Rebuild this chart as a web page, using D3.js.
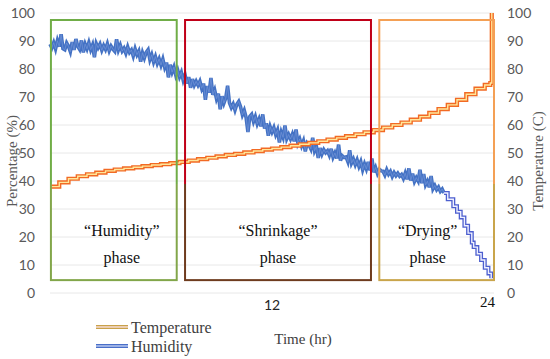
<!DOCTYPE html>
<html>
<head>
<meta charset="utf-8">
<script src="https://cdn.jsdelivr.net/npm/d3@7"></script>
<style>
  body { margin: 0; background: #fff; }
  svg { display: block; }
</style>
</head>
<body>
<svg id="chart"></svg>
<script>
// humidity (%), sampled every 0.1 hr from 0 to 21.3 hr
const humidity = [
  88.9, 87.6, 89.4, 87.2, 90.1, 88.0, 92.4, 87.3, 86.9, 89.3,
  88.1, 86.2, 89.6, 86.8, 90.7, 88.1, 87.0, 90.2, 85.9, 88.9,
  87.2, 89.4, 86.9, 88.6, 84.2, 89.1, 87.6, 88.9, 86.7, 88.4,
  87.0, 89.0, 86.5, 88.2, 87.1, 86.3, 90.6, 86.8, 88.5, 86.4,
  87.4, 85.6, 87.9, 85.9, 86.8, 84.6, 87.2, 85.1, 86.4, 82.6,
  85.8, 83.9, 86.0, 86.9, 83.3, 85.1, 82.5, 84.4, 82.0, 83.6,
  81.4, 83.5, 80.6, 82.3, 77.0, 81.5, 78.9, 80.7, 77.8, 79.6,
  77.2, 78.8, 76.0, 77.9, 74.8, 77.1, 73.3, 76.4, 74.2, 75.6,
  74.2, 75.6, 73.1, 74.8, 69.0, 73.9, 71.6, 76.8, 70.8, 72.5,
  69.4, 71.2, 65.6, 70.3, 67.8, 69.6, 74.0, 67.9, 66.2, 67.5,
  65.3, 67.4, 68.4, 66.5, 63.6, 65.2, 62.7, 57.5, 63.0, 63.8,
  61.2, 63.0, 60.4, 62.1, 59.5, 63.8, 58.7, 60.6, 56.2, 59.4,
  57.5, 59.1, 56.6, 58.2, 53.8, 57.4, 55.6, 59.8, 55.1, 56.6,
  55.0, 56.7, 54.2, 58.4, 53.5, 55.0, 52.6, 54.3, 50.6, 53.6,
  52.9, 51.5, 55.4, 50.8, 52.3, 48.2, 51.8, 49.6, 51.2, 50.1,
  50.8, 49.2, 51.5, 48.5, 50.0, 48.1, 53.0, 47.3, 49.0, 48.4,
  48.6, 46.9, 51.0, 46.4, 47.8, 45.8, 47.5, 45.2, 46.9, 44.0,
  46.1, 44.3, 46.8, 43.8, 48.0, 43.1, 44.8, 42.7, 44.2, 43.6,
  43.5, 42.1, 44.0, 42.4, 43.4, 41.6, 43.0, 41.9, 42.8, 41.7,
  42.3, 40.9, 42.8, 40.6, 44.5, 40.2, 42.6, 39.8, 41.2, 40.0,
  44.0, 39.2, 42.5, 38.6, 39.9, 37.8, 41.8, 37.2, 38.4, 36.9,
  37.8, 36.3, 37.1, 35.7
];
// humidity during drying [hr, %]
const humidityTail = [
  [21.3, 35.7], [21.5, 33.5], [21.8, 31.0], [22.0, 29.0], [22.2, 27.0],
  [22.4, 24.0], [22.6, 21.4], [22.8, 18.0], [22.9, 16.4], [23.1, 14.0],
  [23.3, 11.8], [23.5, 9.0], [23.7, 7.0], [23.85, 5.3]
];
// temperature (C) [hr, C]
const temperature = [
  [0, 38.0], [0.5, 39.5], [1, 40.8], [1.5, 41.7], [2, 42.4], [2.5, 43.0],
  [3, 43.6], [3.5, 44.1], [4, 44.5], [4.5, 44.9], [5, 45.3], [5.5, 45.7],
  [6, 46.0], [6.5, 46.4], [7, 46.8], [7.5, 47.3], [8, 47.8], [8.5, 48.3],
  [9, 48.8], [9.5, 49.3], [10, 49.7], [10.5, 50.2], [11, 50.7], [11.5, 51.2],
  [12, 51.6], [12.5, 52.1], [13, 52.6], [13.5, 53.1], [14, 53.6], [14.5, 54.2],
  [15, 54.8], [15.5, 55.4], [16, 56.0], [16.5, 56.7], [17, 57.4], [17.5, 58.2],
  [18, 59.1], [18.5, 60.0], [19, 60.9], [19.5, 61.9], [20, 63.0], [20.5, 64.3],
  [21, 65.7], [21.5, 67.2], [22, 69.0], [22.5, 71.0], [23, 73.0], [23.5, 74.3],
  [23.8, 75.0], [23.88, 100]
];
// phases [start hr, end hr]
const phaseNames = ["\u201CHumidity\u201D", "\u201CShrinkage\u201D", "\u201CDrying\u201D"];
const phaseSpans = [[0.05, 6.85], [7.3, 17.35], [17.8, 24]];
const yTicks = [0, 10, 20, 30, 40, 50, 60, 70, 80, 90, 100];
const xTicks = [12, 24];

const width = 550, height = 359;
const svg = d3.select("#chart").attr("width", width).attr("height", height);

const x = d3.scaleLinear().domain([0, 24]).range([50, 494]);
const y = d3.scaleLinear().domain([0, 100]).range([293, 13]);

const sans = "Lato, 'Open Sans', sans-serif";
const serif = "'Liberation Serif', 'DejaVu Serif', serif";

// gridlines
svg.append("g").selectAll("line")
  .data(yTicks)
  .enter().append("line")
  .attr("x1", 50).attr("x2", 494)
  .attr("y1", d => y(d)).attr("y2", d => y(d))
  .attr("stroke", "#e8e8e8").attr("stroke-width", 1);

// left + right tick labels
svg.append("g").selectAll("text")
  .data(yTicks)
  .enter().append("text")
  .attr("x", 35).attr("y", d => y(d)).attr("dy", "0.35em")
  .attr("text-anchor", "end")
  .style("font-family", sans).style("font-size", "14px").style("fill", "#595959")
  .text(d => d);

svg.append("g").selectAll("text")
  .data(yTicks)
  .enter().append("text")
  .attr("x", 507).attr("y", d => y(d)).attr("dy", "0.35em")
  .attr("text-anchor", "start")
  .style("font-family", sans).style("font-size", "14px").style("fill", "#595959")
  .text(d => d);

// x tick labels
svg.append("text")
  .attr("x", x(xTicks[0])).attr("y", 310).attr("text-anchor", "middle")
  .style("font-family", sans).style("font-size", "14px").style("fill", "#262626")
  .text(xTicks[0]);
svg.append("text")
  .attr("x", x(xTicks[1]) + 1).attr("y", 307).attr("text-anchor", "end")
  .style("font-family", serif).style("font-size", "15px").style("fill", "#111")
  .text(xTicks[1]);

// axis titles
svg.append("text")
  .attr("transform", "translate(17,161) rotate(-90)")
  .attr("text-anchor", "middle")
  .style("font-family", serif).style("font-size", "15px").style("fill", "#595959")
  .text("Percentage (%)");
svg.append("text")
  .attr("transform", "translate(543,161) rotate(-90)")
  .attr("text-anchor", "middle")
  .style("font-family", serif).style("font-size", "15px").style("fill", "#595959")
  .text("Temperature (C)");
svg.append("text")
  .attr("x", 303).attr("y", 344).attr("text-anchor", "middle")
  .style("font-family", serif).style("font-size", "15px").style("fill", "#404040")
  .text("Time (hr)");

// double-stroke line helper
function doubleLine(data, curve, outer, inner, wOut, wIn) {
  const line = d3.line().x(d => x(d[0])).y(d => y(d[1])).curve(curve);
  const g = svg.append("g").attr("fill", "none");
  g.append("path").attr("d", line(data)).attr("stroke", outer).attr("stroke-width", wOut);
  g.append("path").attr("d", line(data)).attr("stroke", inner).attr("stroke-width", wIn);
}

const humPts = humidity.map((v, i) => [i * 0.1, v]);
doubleLine(humPts, d3.curveLinear, "#4472c4", "#6d90d6", 3.6, 0.8);
doubleLine(humidityTail, d3.curveStepAfter, "#4d5fcf", "#eef0ff", 4, 1.4);
doubleLine(temperature, d3.curveStepAfter, "#f26a24", "#ffe79a", 4.2, 1.4);

// phase boxes
const boxColors = [["#70ad47", "#82a64a"], ["#c00018", "#6e3b1e"], ["#f4a055", "#c9a54b"]];
const defs = svg.append("defs");
boxColors.forEach((c, i) => {
  const gr = defs.append("linearGradient").attr("id", "bg" + i)
    .attr("gradientUnits", "userSpaceOnUse")
    .attr("x1", 0).attr("x2", 0).attr("y1", y(97.5)).attr("y2", y(4.6));
  gr.append("stop").attr("offset", "0").attr("stop-color", c[0]);
  gr.append("stop").attr("offset", "0.63").attr("stop-color", c[0]);
  gr.append("stop").attr("offset", "0.63").attr("stop-color", c[1]);
  gr.append("stop").attr("offset", "1").attr("stop-color", c[1]);
});

svg.append("g").selectAll("rect")
  .data(phaseSpans)
  .enter().append("rect")
  .attr("x", d => x(d[0])).attr("y", y(97.5))
  .attr("width", d => x(d[1]) - x(d[0]))
  .attr("height", y(4.6) - y(97.5))
  .attr("fill", "none")
  .attr("stroke", (d, i) => `url(#bg${i})`)
  .attr("stroke-width", 2);

const labelShift = [8, 0, -9];
phaseSpans.forEach((s, i) => {
  const cx = (x(s[0]) + x(s[1])) / 2 + labelShift[i];
  svg.append("text").attr("x", cx).attr("y", 236).attr("text-anchor", "middle")
    .style("font-family", serif).style("font-size", "16px").style("fill", "#111")
    .text(phaseNames[i]);
  svg.append("text").attr("x", cx).attr("y", 263).attr("text-anchor", "middle")
    .style("font-family", serif).style("font-size", "16px").style("fill", "#111")
    .text("phase");
});

// legend
const legendItems = [
  { name: "Temperature", outer: "#c9a24a", inner: "#fde6ef", y: 327 },
  { name: "Humidity", outer: "#4a6fc8", inner: "#c9d6f5", y: 346 }
];
legendItems.forEach(d => {
  svg.append("line").attr("x1", 96).attr("x2", 128).attr("y1", d.y).attr("y2", d.y)
    .attr("stroke", d.outer).attr("stroke-width", 4);
  svg.append("line").attr("x1", 96).attr("x2", 128).attr("y1", d.y).attr("y2", d.y)
    .attr("stroke", d.inner).attr("stroke-width", 1.3);
  svg.append("text").attr("x", 131).attr("y", d.y + 6)
    .style("font-family", serif).style("font-size", "16px").style("fill", "#404040")
    .text(d.name);
});
</script>
</body>
</html>
